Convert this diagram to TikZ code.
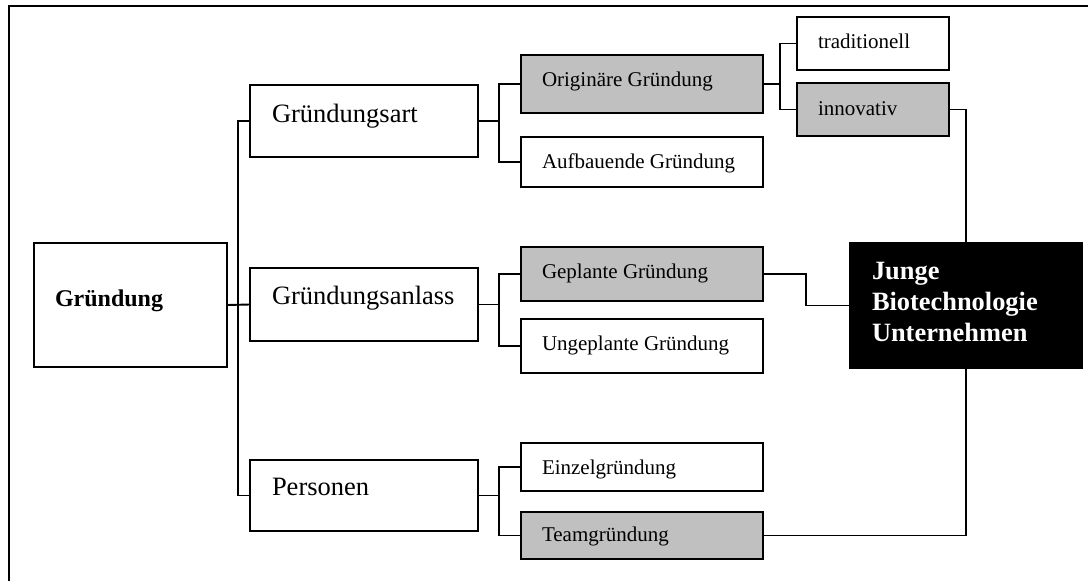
\documentclass[tikz,border=0pt]{standalone}
\usepackage{fontspec}
\setmainfont{Liberation Serif}
\usetikzlibrary{calc}
\definecolor{boxgray}{HTML}{C0C0C0}
\begin{document}
\begin{tikzpicture}[x=1pt,y=-1pt,
  box/.style={draw, line width=1.9pt, rectangle, inner sep=0pt, outer sep=0pt, fill=white},
  shaded/.style={box, fill=boxgray},
  wire/.style={line width=1.9pt},
  lbl/.style={anchor=base west, inner sep=0pt, outer sep=0pt},
  big/.style={lbl, font=\fontsize{26.5}{31}\selectfont},
  small/.style={lbl, font=\fontsize{21}{25}\selectfont}]
\useasboundingbox (0,0) rectangle (1088,581);
% open frame (left and top edges)
\draw[line width=2pt] (9,581) -- (9,6) -- (1088,6);

% root
\node[box, minimum width=193, minimum height=124] (gr) at (130.5,305) {};
\node[lbl, font=\fontsize{24}{28}\selectfont\bfseries] at (55,306) {Gründung};

% first level
\node[box, minimum width=228, minimum height=72] (ga) at (364,121) {};
\node[box, minimum width=228, minimum height=73] (gan) at (364,304.5) {};
\node[box, minimum width=228, minimum height=71] (pers) at (364,495.5) {};
\node[big] at (272,122) {Gründungsart};
\node[big] at (272,304) {Gründungsanlass};
\node[big] at (272,495) {Personen};

% second level
\node[shaded, minimum width=242, minimum height=58] (orig) at (642,84) {};
\node[box, minimum width=242, minimum height=50] (aufb) at (642,162) {};
\node[shaded, minimum width=242, minimum height=54] (gepl) at (642,274) {};
\node[box, minimum width=242, minimum height=54] (ungepl) at (642,346) {};
\node[box, minimum width=242, minimum height=48] (einz) at (642,467) {};
\node[shaded, minimum width=242, minimum height=47] (team) at (642,535.5) {};
\node[small] at (542,86) {Originäre Gründung};
\node[small] at (542,168) {Aufbauende Gründung};
\node[small] at (542,278) {Geplante Gründung};
\node[small] at (542,350.5) {Ungeplante Gründung};
\node[small] at (542,474) {Einzelgründung};
\node[small] at (542,541) {Teamgründung};

% third level
\node[box, minimum width=152, minimum height=53] (trad) at (873,43.5) {};
\node[shaded, minimum width=152, minimum height=53] (inno) at (873,109.5) {};
\node[small] at (818,48) {traditionell};
\node[small] at (818,115) {innovativ};

% result
\node[box, fill=black, minimum width=232, minimum height=125] (junge) at (966,305.5) {};
\node[lbl, font=\fontsize{26.4}{31}\selectfont\bfseries, text=white] at (872,279) {Junge};
\node[lbl, font=\fontsize{26.4}{31}\selectfont\bfseries, text=white] at (872,310) {Biotechnologie};
\node[lbl, font=\fontsize{26.4}{31}\selectfont\bfseries, text=white] at (872,341) {Unternehmen};

% tree connectors
\coordinate (trunk) at ($(gr.east)+(11,0)$);
\draw[wire] (gr.east) -- (gan.west);
\draw[wire] (ga.west) -| (trunk) |- (pers.west);

\draw[wire] (ga.east) -- ++(21,0) coordinate (ja);
\draw[wire] (orig.west) -| (ja) |- (aufb.west);
\draw[wire] (gan.east) -- ++(21,0) coordinate (jb);
\draw[wire] (gepl.west) -| (jb) |- (ungepl.west);
\draw[wire] (pers.east) -- ++(21,0) coordinate (jc);
\draw[wire] (einz.west) -| (jc) |- (team.west);

\draw[wire] (orig.east) -- ++(17,0) coordinate (jd);
\draw[wire] (trad.west) -| (jd) |- (inno.west);

% links into the result box
\draw[wire] (gepl.east) -- ++(43,0) |- (junge.west);
\draw[wire] (inno.east) -| (junge.north);
\draw[wire] (team.east) -| (junge.south);
\end{tikzpicture}
\end{document}
